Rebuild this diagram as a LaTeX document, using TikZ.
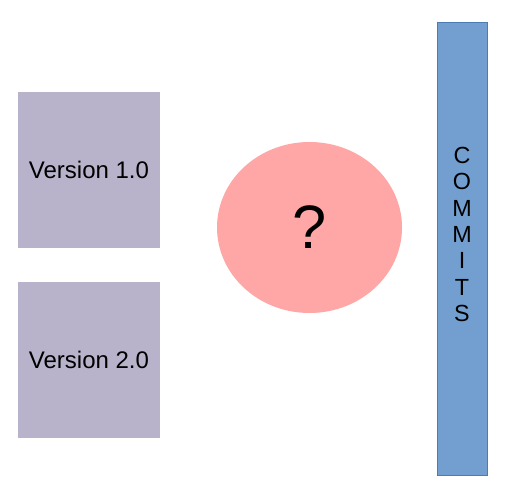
\documentclass[tikz,border=0pt]{standalone}
\usepackage{fontspec}
\setmainfont{Liberation Sans}
\usetikzlibrary{shapes.geometric}
\definecolor{versionfill}{HTML}{B8B3CB}
\definecolor{mergefill}{HTML}{FFA6A6}
\definecolor{commitfill}{HTML}{729FCF}
\definecolor{commitline}{HTML}{4F7BB5}

\begin{document}
\begin{tikzpicture}
[
    x=0.75pt, y=-0.75pt,
    version/.style={fill=versionfill, minimum width=106.5pt, minimum height=117pt, font=\fontsize{18}{21}\selectfont},
    merge/.style={ellipse, fill=mergefill, minimum width=138.75pt, minimum height=128.25pt, font=\fontsize{46}{50}\selectfont},
    commitbar/.style={draw=commitline, line width=0.6pt, fill=commitfill, minimum width=37.5pt, minimum height=339.75pt},
]
\useasboundingbox (0,0) rectangle (513,498);
\node [version] (v1) at (89,170) {Version 1.0};
\node [version] (v2) at (89,360) {Version 2.0};
\node [merge] (q) at (309.5,227.5) {?};
\node [commitbar] (commits) at (462,248.5) {};
\node [font=\fontsize{17.5}{19.7}\selectfont, align=center] (label) at (462,234.5)
{C\\O\\M\\M\\I\\T\\S};
\end{tikzpicture}
\end{document}
